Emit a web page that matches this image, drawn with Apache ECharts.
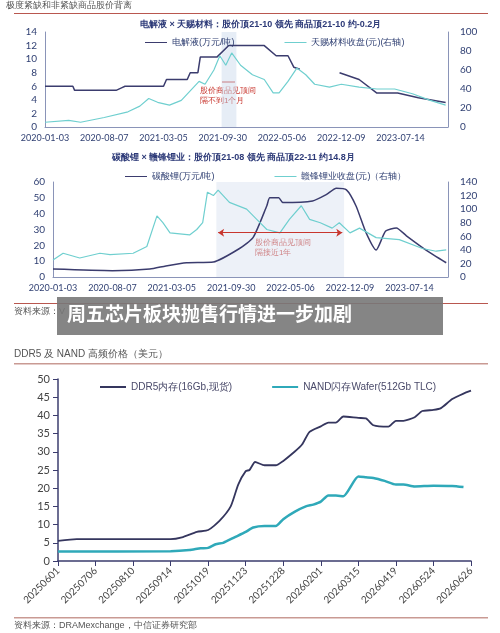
<!DOCTYPE html>
<html>
<head>
<meta charset="utf-8">
<script src="https://cdn.jsdelivr.net/npm/echarts@6/dist/echarts.min.js"></script>
<style>
  body { margin: 0; background: #fff; }
  #chart { width: 500px; height: 633px; }
</style>
</head>
<body>
<div id="chart"></div>
<script>
// Shared date labels of the two top charts (positions 0..6)
var topDates = ["2020-01-03", "2020-08-07", "2021-03-05", "2021-09-30", "2022-05-06", "2022-12-09", "2023-07-14"];
var ddrDates = ["20250601", "20250706", "20250810", "20250914", "20251019", "20251123", "20251228", "20260201", "20260315", "20260419", "20260524", "20260626"];

// Chart 1: electrolyte (left) vs Tianci (right); x in label units
var electrolyte = [[0, 6], [0.47, 6], [0.5, 5.4], [1.2, 5.4], [1.3, 5.8], [1.35, 6], [2.0, 6], [2.05, 7], [2.4, 7], [2.45, 8], [2.58, 8], [2.62, 10.3], [2.9, 10.3], [3.1, 12], [3.7, 12], [3.9, 10.5], [4.1, 10.5], [4.2, 8.8], [4.3, 8.5], [4.6, "-"], [4.97, 8], [5.3, 7], [5.6, 5], [5.95, 5], [6.3, 4.3], [6.76, 3.6]];
var tianci = [[0, 5], [0.4, 7], [0.6, 5], [1.0, 10], [1.4, 16], [1.6, 22], [1.75, 30], [1.9, 26], [2.1, 23], [2.3, 28], [2.45, 38], [2.6, 48], [2.7, 45], [2.85, 60], [2.95, 75], [3.05, 65], [3.15, 78], [3.3, 65], [3.5, 55], [3.7, 50], [3.85, 36], [3.95, 36], [4.1, 48], [4.25, 62], [4.4, 55], [4.55, 45], [4.8, 42], [5.0, 45], [5.3, 42], [5.6, 40], [5.9, 40], [6.2, 35], [6.5, 28], [6.76, 23]];

// Chart 2: lithium carbonate (left) vs Ganfeng (right)
var lithium = [[0, 5], [1.0, 4], [1.63, 5], [1.9, 7], [2.25, 9], [2.7, 9.5], [3.14, 18], [3.37, 25], [3.6, 45], [3.65, 50], [3.8, 50], [3.87, 47], [4.37, 48], [4.6, 52], [4.77, 56], [4.94, 55], [5.1, 45], [5.27, 28], [5.44, 17], [5.6, 29], [5.78, 31], [5.95, 26], [6.28, 17], [6.62, 9]];
var ganfeng = [[0, 25], [0.17, 35], [0.45, 28], [0.79, 35], [0.96, 33], [1.35, 35], [1.58, 45], [1.75, 90], [1.85, 80], [1.97, 65], [2.3, 62], [2.42, 70], [2.52, 80], [2.6, 125], [2.7, 120], [2.78, 128], [2.97, 110], [3.26, 100], [3.43, 85], [3.6, 70], [3.82, 65], [3.98, 85], [4.18, 105], [4.32, 85], [4.5, 80], [4.7, 72], [4.82, 80], [5.0, 65], [5.16, 72], [5.44, 58], [5.83, 55], [6.22, 42], [6.45, 38], [6.62, 40]];

// Chart 3: DDR5 and NAND prices, x in label units (0..11)
var ddr5 = [[0, 5.5], [0.5, 6], [1, 6], [2, 6], [3, 6], [3.3, 6.5], [3.7, 8], [4, 8.5], [4.3, 11], [4.6, 15], [4.8, 21], [5, 24.7], [5.1, 25], [5.25, 27.2], [5.5, 26.3], [5.8, 26.3], [6.0, 27.5], [6.3, 30], [6.5, 32], [6.7, 35.5], [7, 37], [7.2, 38], [7.4, 38], [7.6, 39.7], [8, 39.3], [8.2, 39.2], [8.4, 37.3], [8.8, 36.9], [9, 38.5], [9.2, 38.5], [9.5, 39.5], [9.7, 41.2], [10, 41.5], [10.2, 42], [10.5, 44.5], [10.8, 46], [11, 46.8]];
var nand = [[0, 2.6], [3, 2.7], [3.5, 3], [3.8, 3.5], [4, 3.6], [4.2, 4.6], [4.4, 5], [4.7, 6.5], [5, 8], [5.2, 9.2], [5.5, 9.6], [5.8, 9.6], [6, 11.5], [6.3, 13.5], [6.6, 15], [6.8, 15.5], [7, 16.3], [7.2, 18], [7.4, 18], [7.6, 17.8], [8, 23.2], [8.2, 23], [8.4, 22.8], [8.7, 22], [9, 21], [9.2, 21], [9.5, 20.5], [10, 20.7], [10.5, 20.6], [10.8, 20.3]];

var navy = "#3b3c6e";
var cyan = "#6fcfcf";
var axisBlue = "#2f3f72";

function topX(grid, max) {
    return {
        type: "value", gridIndex: grid, min: 0, max: max, interval: 1,
        axisLine: { lineStyle: { color: "#8a94b8" } },
        axisTick: { show: false },
        splitLine: { show: false },
        axisLabel: { color: axisBlue, fontSize: 9, fontFamily: "Lato", margin: 7,
            showMaxLabel: false,
            formatter: function (v) { return topDates[v] || ""; } }
    };
}
function topY(grid, max, step, right) {
    return {
        type: "value", gridIndex: grid, min: 0, max: max, interval: step,
        position: right ? "right" : "left",
        axisLine: { show: true, lineStyle: { color: "#8a94b8" } },
        axisTick: { show: false },
        splitLine: { show: false },
        axisLabel: { color: axisBlue, fontSize: 10, fontFamily: "Lato", margin: right ? 12 : 8 }
    };
}
function line(name, x, y, data, color, width, extra) {
    var s = { name: name, type: "line", xAxisIndex: x, yAxisIndex: y, data: data,
        showSymbol: false, smooth: 0.2, lineStyle: { color: color, width: width },
        itemStyle: { color: color } };
    return Object.assign(s, extra || {});
}

var chart = echarts.init(document.getElementById("chart"));
chart.setOption({
    animation: false,
    grid: [
        { left: 45, right: 52, top: 32, height: 95 },
        { left: 53, right: 52, top: 182, height: 95 },
        { left: 58, right: 29, top: 379, height: 182 }
    ],
    legend: [
        { top: 33, left: 140, itemWidth: 22, itemHeight: 1, itemGap: 50, icon: "rect",
          textStyle: { color: axisBlue, fontSize: 9 }, data: ["电解液(万元/吨)", "天赐材料收盘(元)(右轴)"] },
        { top: 167, left: 120, itemWidth: 22, itemHeight: 1, itemGap: 60, icon: "rect",
          textStyle: { color: axisBlue, fontSize: 9 }, data: ["碳酸锂(万元/吨)", "赣锋锂业收盘(元)（右轴）"] },
        { top: 377, left: 95, itemWidth: 26, itemHeight: 2, itemGap: 40, icon: "rect",
          textStyle: { color: "#4a4a6a", fontSize: 10 }, data: ["DDR5内存(16Gb,现货)", "NAND闪存Wafer(512Gb TLC)"] }
    ],
    xAxis: [
        topX(0, 6.8),
        topX(1, 6.65),
        { type: "value", gridIndex: 2, min: 0, max: 11, interval: 1,
          axisLine: { lineStyle: { color: "#3b3c6e", width: 1.5 } },
          axisTick: { show: true, lineStyle: { color: "#3b3c6e" } },
          splitLine: { show: false },
          axisLabel: { color: "#444", fontSize: 10, rotate: 45, fontFamily: "Lato",
              formatter: function (v) { return ddrDates[v] || ""; } } }
    ],
    yAxis: [
        topY(0, 14, 2, false), topY(0, 100, 20, true),
        topY(1, 60, 10, false), topY(1, 140, 20, true),
        { type: "value", gridIndex: 2, min: 0, max: 50, interval: 5,
          axisLine: { show: true, lineStyle: { color: "#3b3c6e", width: 1.5 } },
          axisTick: { show: true, lineStyle: { color: "#3b3c6e" } },
          splitLine: { show: false },
          axisLabel: { color: "#444", fontSize: 11, fontFamily: "Lato" } }
    ],
    series: [
        line("电解液(万元/吨)", 0, 0, electrolyte, navy, 1.5, { smooth: false,
            markArea: { silent: true, itemStyle: { color: "rgba(200,215,235,0.45)" },
                data: [[{ xAxis: 2.98 }, { xAxis: 3.23 }]] } }),
        line("天赐材料收盘(元)(右轴)", 0, 1, tianci, cyan, 1.2, { smooth: false }),
        line("碳酸锂(万元/吨)", 1, 2, lithium, navy, 1.5, {
            markArea: { silent: true, itemStyle: { color: "rgba(215,225,240,0.45)" },
                data: [[{ xAxis: 2.75 }, { xAxis: 4.9 }]] },
            markLine: { silent: true, symbol: ["arrow", "arrow"], symbolSize: 6,
                lineStyle: { color: "#c8362e", type: "solid", width: 1.2 }, label: { show: false },
                data: [[{ coord: [2.78, 28] }, { coord: [4.87, 28] }]] } }),
        line("赣锋锂业收盘(元)（右轴）", 1, 3, ganfeng, cyan, 1.2, { smooth: false }),
        line("DDR5内存(16Gb,现货)", 2, 4, ddr5, "#35365e", 1.8),
        line("NAND闪存Wafer(512Gb TLC)", 2, 4, nand, "#2fa9b9", 2.5)
    ],
    graphic: [
        { type: "text", left: 6, top: 1, style: { text: "极度紧缺和非紧缺商品股价背离", fill: "#555", fontSize: 9 } },
        { type: "rect", shape: { x: 14, y: 13, width: 474, height: 1 }, style: { fill: "#b9574f" } },
        { type: "text", left: 140, top: 20, style: { text: "电解液 × 天赐材料：股价顶21-10 领先 商品顶21-10 约-0.2月", fill: "#2d3a78", fontSize: 9, fontWeight: "bold" } },
        { type: "line", shape: { x1: 222, y1: 82, x2: 235, y2: 82 }, style: { stroke: "#c8362e", lineWidth: 1 } },
        { type: "text", left: 200, top: 86, style: { text: "股价商品见顶间\n隔不到1个月", fill: "#c8362e", fontSize: 8, lineHeight: 10 } },
        { type: "text", left: 112, top: 153, style: { text: "碳酸锂 × 赣锋锂业：股价顶21-08 领先 商品顶22-11 约14.8月", fill: "#2d3a78", fontSize: 9, fontWeight: "bold" } },
        { type: "text", left: 255, top: 238, style: { text: "股价商品见顶间\n隔接近1年", fill: "#c8362e", fontSize: 8, lineHeight: 10 } },
        { type: "rect", shape: { x: 14, y: 303, width: 474, height: 1 }, style: { fill: "#b9574f" } },
        { type: "text", left: 14, top: 307, style: { text: "资料来源：V", fill: "#555", fontSize: 9 } },
        { type: "rect", shape: { x: 57, y: 297, width: 386, height: 38 }, style: { fill: "rgba(120,120,120,0.9)" } },
        { type: "text", left: 67, top: 304, style: { text: "周五芯片板块抛售行情进一步加剧", fill: "#fff", fontSize: 19, fontWeight: "bold", fontFamily: "Noto Sans CJK SC" } },
        { type: "text", left: 14, top: 349, style: { text: "DDR5 及 NAND 高频价格（美元）", fill: "#555", fontSize: 10 } },
        { type: "rect", shape: { x: 14, y: 363, width: 474, height: 1.5 }, style: { fill: "#c99a93" } },
        { type: "rect", shape: { x: 14, y: 617, width: 474, height: 1.5 }, style: { fill: "#c99a93" } },
        { type: "text", left: 14, top: 621, style: { text: "资料来源：DRAMexchange，中信证券研究部", fill: "#555", fontSize: 9 } }
    ]
});
</script>
</body>
</html>
